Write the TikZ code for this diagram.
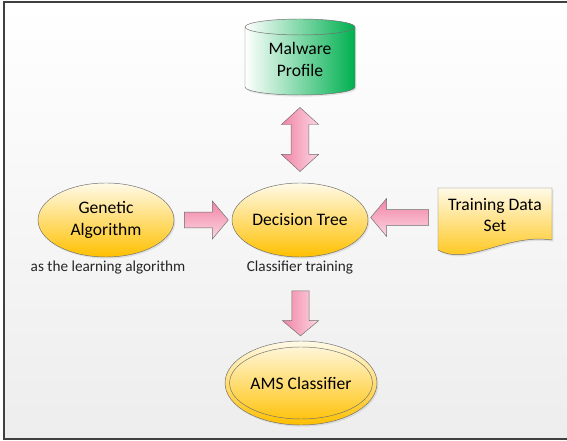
\documentclass[tikz,border=0pt]{standalone}
\usepackage{fontspec}
\setmainfont{Carlito}
\usetikzlibrary{shapes,shapes.arrows,calc,shadows}

\definecolor{gold}{RGB}{255,192,0}
\definecolor{cream}{RGB}{255,250,232}
\definecolor{pinkdark}{RGB}{241,132,166}
\definecolor{pinklight}{RGB}{252,214,226}
\definecolor{msgreen}{RGB}{0,176,80}
\definecolor{rim}{RGB}{110,110,110}
\definecolor{framegray}{RGB}{64,64,64}

\begin{document}
\begin{tikzpicture}[font=\fontsize{15}{18.5}\selectfont,
  softshadow/.style={drop shadow={opacity=0.18,shadow xshift=0.04cm,shadow yshift=-0.05cm}},
  oval/.style={ellipse,draw=rim,top color=cream,bottom color=gold,minimum width=4.08cm,
    minimum height=2.22cm,inner sep=0pt,align=center,softshadow},
  bigarrow/.style={single arrow,draw=rim,top color=pinkdark,bottom color=pinklight,
    inner sep=0pt,inner ysep=0.23cm,minimum width=0pt,single arrow head extend=0.33cm,
    single arrow tip angle=100},
  downarrow/.style={bigarrow,shape border rotate=270,left color=pinkdark,right color=pinklight,
    inner ysep=0pt,inner xsep=0.25cm,single arrow head extend=0.29cm},
  note/.style={font=\fontsize{13}{14}\selectfont,text=black!85}]

  % page background and frame
  \useasboundingbox (0,0) rectangle (17.01,13.23);
  \shade[top color=white,bottom color=black!7] (0.12,0.06) rectangle (17.01,13.17);
  \draw[framegray,line width=1.6pt] (17.01,13.17) -- (0.12,13.17) -- (0.12,0.06) -- (17.01,0.06);

  % database cylinder
  \coordinate (mpc) at (9.0,11.45);
  \begin{scope}[shift={(mpc)}]
    \path[draw=rim,left color=white,right color=msgreen,softshadow]
      (-1.65,0.97) -- (-1.65,-0.83) arc[start angle=180,end angle=360,x radius=1.65,y radius=0.24]
      -- (1.65,0.97) arc[start angle=0,end angle=180,x radius=1.65,y radius=0.24] -- cycle;
    \draw[rim] (-1.65,0.97) arc[start angle=180,end angle=360,x radius=1.65,y radius=0.24];
  \end{scope}
  \node[minimum width=3.3cm,minimum height=2.2cm,align=center] (mp) at (mpc) {Malware\\Profile};

  % data document with wavy bottom
  \coordinate (tdc) at (14.85,6.78);
  \begin{scope}[shift={(tdc)}]
    \path[draw=rim,top color=cream,bottom color=gold,softshadow]
      (-1.71,0.81) -- (-1.71,-1.05) .. controls (-0.8,-1.55) and (0.3,-0.55) .. (1.71,-0.75)
      -- (1.71,0.81) -- cycle;
  \end{scope}
  \node[minimum width=3.42cm,align=center] (td) at (tdc) {Training Data\\Set};

  % ovals
  \node[oval] (ga) at (3.18,6.63) {Genetic\\Algorithm};
  \node[oval] (dt) at (9.0,6.63)  {Decision Tree};
  \node[note] (la) at (3.24,5.19) {as the learning algorithm};
  \node[note] (ct) at (9.0,5.19)  {Classifier training};
  \node[oval,minimum width=4.56cm,minimum height=2.52cm] (ams) at (9.03,1.74) {};
  \node[ellipse,draw=rim,inner sep=0pt,minimum width=4.14cm,minimum height=2.16cm] (amsin) at (ams) {AMS Classifier};

  % block arrows
  \node[bigarrow,minimum height=1.32cm] (a1) at ($(ga.east)!0.5!(dt.west)$) {};
  \node[bigarrow,minimum height=1.74cm,shape border rotate=180] (a2) at ($(td.west)!0.5!(dt.east)$) {};
  \node[downarrow,minimum height=1.35cm] (a3) at ($(ct.south)!0.5!(ams.north)$) {};
  \node[double arrow,draw=rim,left color=pinkdark,right color=pinklight,inner sep=0pt,inner xsep=0.26cm,
    minimum width=0pt,minimum height=1.92cm,double arrow head extend=0.29cm,double arrow tip angle=95,
    shape border rotate=90] (a4) at ($(mp.south)!0.5!(dt.north)$) {};
\end{tikzpicture}
\end{document}
